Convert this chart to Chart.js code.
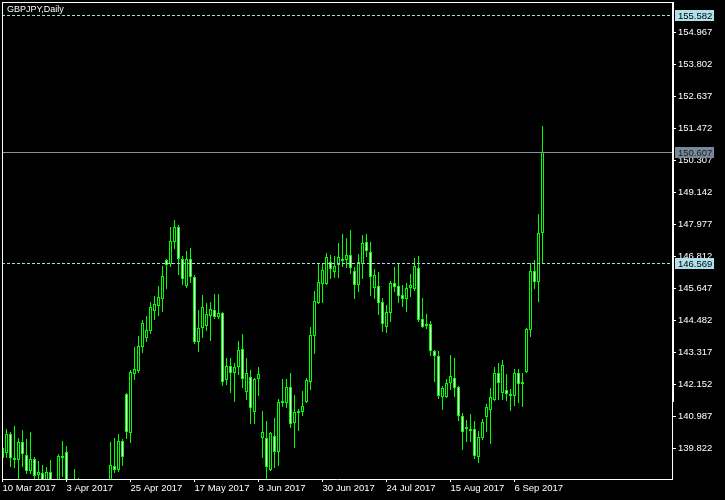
<!DOCTYPE html>
<html>
<head>
<meta charset="utf-8">
<script src="https://cdn.jsdelivr.net/npm/chart.js@4.4.1/dist/chart.umd.min.js"></script>
<style>
  html, body { margin: 0; padding: 0; background: #000; }
  canvas { display: block; }
</style>
</head>
<body>
<canvas id="chart" width="725" height="500"></canvas>
<script>
// GBPJPY daily candles, bar 0 = 10 Mar 2017
const openP = [
  139.469, 139.651, 140.343, 139.469, 139.396, 140.052, 139.578, 138.996, 139.432, 138.850,
  138.923, 138.595, 138.959, 138.500, 138.300, 139.542, 139.687, 138.050, 138.000, 138.200,
  137.700, 137.400, 137.200, 136.200, 136.400, 136.000, 136.200, 136.500, 139.178, 139.032,
  140.088, 141.799, 140.379, 142.527, 142.636, 143.510, 143.838, 144.092, 144.821, 145.003,
  145.258, 146.677, 146.532, 147.333, 147.879, 146.714, 145.731, 146.714, 146.058, 143.692,
  144.202, 144.275, 144.639, 144.857, 144.602, 144.748, 142.309, 142.818, 142.563, 142.782,
  143.437, 141.872, 142.418, 141.144, 142.345, 140.197, 140.197, 139.032, 140.270, 139.687,
  141.472, 141.472, 142.054, 140.743, 141.108, 141.144, 141.508, 142.236, 143.910, 145.112,
  145.804, 145.804, 146.605, 146.240, 146.495, 146.714, 146.677, 146.860, 146.277, 145.767,
  146.532, 147.333, 146.969, 145.658, 145.731, 145.148, 144.239, 144.748, 145.840, 145.731,
  145.403, 145.258, 145.658, 145.622, 146.386, 144.530, 144.275, 144.348, 143.365, 143.183,
  141.690, 141.690, 142.200, 142.382, 142.054, 140.998, 140.525, 140.452, 140.525, 139.505,
  140.197, 140.962, 141.217, 141.581, 142.563, 141.836, 141.945, 141.726, 141.726, 142.563,
  142.163, 142.600, 144.129, 146.277, 145.877, 147.660
];
const highP = [
  139.942, 140.525, 140.416, 140.634, 140.197, 140.489, 140.161, 140.416, 139.505, 139.359,
  139.214, 139.141, 139.396, 138.650, 139.614, 140.088, 139.906, 138.550, 139.069, 138.741,
  138.400, 137.900, 137.500, 136.800, 136.700, 136.400, 136.600, 140.052, 140.197, 140.343,
  140.161, 141.836, 142.673, 143.510, 143.910, 144.493, 144.639, 145.148, 145.367, 145.731,
  146.459, 146.714, 147.879, 148.133, 147.951, 146.823, 147.005, 147.115, 146.131, 144.857,
  145.403, 145.112, 145.148, 145.440, 145.440, 144.784, 143.110, 143.110, 142.927, 143.729,
  143.983, 143.110, 142.673, 142.382, 142.782, 141.181, 140.816, 140.416, 140.925, 141.617,
  142.345, 142.345, 142.563, 141.763, 141.254, 141.908, 142.382, 144.239, 145.549, 146.532,
  146.568, 146.932, 146.860, 146.823, 147.297, 147.624, 147.479, 147.769, 146.423, 146.896,
  147.588, 147.624, 147.333, 146.350, 146.240, 145.294, 145.039, 145.913, 146.423, 146.568,
  145.767, 145.840, 146.168, 146.750, 146.823, 145.294, 144.712, 144.457, 143.401, 143.365,
  142.091, 142.345, 143.219, 143.110, 142.091, 141.108, 140.853, 141.072, 140.816, 140.452,
  140.889, 141.436, 142.018, 142.782, 142.927, 143.037, 142.527, 141.981, 142.709, 142.709,
  142.563, 144.202, 146.568, 146.677, 148.352, 151.556
];
const lowP = [
  139.396, 139.469, 139.141, 139.105, 138.632, 139.141, 138.886, 138.886, 138.632, 138.595,
  138.486, 138.450, 138.377, 137.700, 138.100, 138.777, 137.850, 137.600, 137.800, 137.500,
  137.000, 136.900, 135.900, 135.800, 135.700, 135.600, 135.600, 136.200, 138.923, 138.959,
  139.178, 140.161, 140.015, 142.309, 142.563, 143.292, 143.692, 143.983, 144.493, 144.639,
  144.784, 145.622, 146.423, 147.078, 146.131, 145.767, 145.658, 145.840, 143.620, 143.328,
  143.838, 144.092, 143.729, 144.530, 144.530, 142.091, 142.127, 141.836, 141.508, 142.491,
  142.018, 141.581, 140.707, 140.707, 141.726, 139.469, 138.705, 138.996, 139.105, 139.178,
  141.326, 141.290, 140.561, 139.833, 140.452, 140.998, 141.472, 141.945, 143.256, 145.076,
  145.112, 145.767, 145.986, 146.022, 146.022, 146.423, 146.386, 146.168, 145.258, 145.513,
  145.986, 146.787, 145.367, 145.258, 144.675, 144.056, 144.020, 144.421, 145.513, 145.112,
  144.966, 144.784, 145.331, 145.549, 144.421, 144.202, 144.166, 143.183, 142.236, 141.617,
  141.217, 141.653, 141.945, 141.690, 140.816, 139.760, 140.052, 140.052, 139.432, 139.287,
  140.124, 140.416, 139.979, 141.545, 141.581, 141.581, 141.545, 141.181, 141.363, 141.472,
  141.326, 142.563, 143.874, 145.622, 145.148, 146.568
];
const closeP = [
  139.833, 140.343, 139.469, 139.396, 140.052, 139.614, 138.996, 139.432, 138.814, 138.959,
  138.632, 138.959, 138.523, 137.950, 139.542, 139.469, 138.050, 137.900, 138.200, 137.700,
  137.400, 137.200, 136.200, 136.400, 136.000, 136.200, 136.500, 139.214, 139.032, 140.088,
  139.505, 140.416, 142.600, 142.709, 143.547, 144.384, 144.129, 144.966, 145.076, 145.331,
  146.095, 146.495, 147.369, 147.879, 146.714, 145.986, 146.714, 146.058, 143.692, 144.202,
  144.966, 144.712, 144.894, 144.602, 144.748, 142.236, 142.818, 142.563, 142.782, 143.401,
  142.345, 142.563, 141.290, 142.345, 142.527, 140.416, 139.141, 140.379, 139.687, 141.508,
  141.545, 142.054, 140.707, 141.144, 141.181, 141.363, 142.309, 143.947, 145.185, 145.877,
  146.313, 146.787, 146.350, 146.459, 146.787, 146.641, 146.860, 146.386, 145.767, 146.605,
  147.297, 147.005, 146.058, 146.131, 145.112, 144.348, 144.784, 145.840, 145.694, 145.367,
  145.258, 145.658, 145.767, 146.459, 144.493, 144.239, 144.348, 143.365, 143.183, 141.726,
  142.018, 142.200, 142.454, 142.018, 140.998, 140.416, 140.598, 140.525, 139.542, 140.234,
  140.780, 141.326, 141.690, 142.563, 142.200, 142.855, 141.799, 141.799, 142.563, 142.163,
  142.236, 144.166, 146.277, 145.877, 147.660, 150.607
];

const priceTicks = [154.967, 153.802, 152.637, 151.472, 150.307, 149.142, 147.977,
                    146.812, 145.647, 144.482, 143.317, 142.152, 140.987, 139.822];
const dateLabels = ["10 Mar 2017", "3 Apr 2017", "25 Apr 2017", "17 May 2017", "8 Jun 2017",
                    "30 Jun 2017", "24 Jul 2017", "15 Aug 2017", "6 Sep 2017"];
const dateBars = [0, 16, 32, 48, 64, 80, 96, 112, 128];
const hLines = [155.582, 146.569];
const bidPrice = 150.607;

const GREEN = "#00ff00";
const FONT = "'Liberation Sans', Arial, sans-serif";

const bodies = openP.map((o, i) => ({ x: i, y: [o, closeP[i]] }));
const wicks = openP.map((o, i) => ({ x: i, y: [lowP[i], highP[i]] }));

const mtDecor = {
    id: "mtDecor",
    afterDatasetsDraw(chart) {
        const { ctx, chartArea: a, scales: { y } } = chart;
        ctx.save();
        // horizontal dashed lines
        ctx.strokeStyle = "#a8dce8";
        ctx.lineWidth = 1;
        ctx.setLineDash([3, 2]);
        hLines.forEach(p => {
            const py = Math.round(y.getPixelForValue(p)) + 0.5;
            ctx.beginPath();
            ctx.moveTo(a.left, py);
            ctx.lineTo(a.right, py);
            ctx.stroke();
        });
        // bid line
        ctx.setLineDash([]);
        ctx.strokeStyle = "#8394a4";
        const by = Math.round(y.getPixelForValue(bidPrice)) + 0.5;
        ctx.beginPath();
        ctx.moveTo(a.left, by);
        ctx.lineTo(a.right, by);
        ctx.stroke();
        ctx.restore();
    },
    afterDraw(chart) {
        const { ctx, chartArea: a, scales: { y } } = chart;
        ctx.save();
        // frame
        ctx.fillStyle = "#ffffff";
        ctx.fillRect(a.left, a.top, a.right - a.left + 1, 1);
        ctx.fillRect(a.left, a.top, 1, a.bottom - a.top);
        ctx.fillRect(a.right + 1, a.top, 1, 402 - a.top);
        // price boxes
        ctx.font = "9.5px " + FONT;
        ctx.textBaseline = "middle";
        ctx.textAlign = "left";
        const box = (p, bg, fg) => {
            const py = Math.round(y.getPixelForValue(p));
            ctx.fillStyle = bg;
            ctx.fillRect(a.right + 3, py - 5, 39, 11);
            ctx.fillStyle = fg;
            ctx.fillText(p.toFixed(3), a.right + 6, py + 1);
        };
        hLines.forEach(p => box(p, "#b0e0ea", "#000000"));
        box(bidPrice, "#778899", "#1c1c1c");
        // title
        ctx.fillStyle = "#ffffff";
        ctx.font = "9px " + FONT;
        ctx.textBaseline = "top";
        ctx.fillText("GBPJPY,Daily", 7, 5);
        ctx.restore();
    }
};

new Chart(document.getElementById("chart"), {
    type: "bar",
    data: {
        datasets: [
            {
                data: bodies,
                grouped: false,
                barThickness: 3,
                borderWidth: 1,
                borderSkipped: false,
                inflateAmount: 0,
                minBarLength: 2,
                borderColor: GREEN,
                backgroundColor: bodies.map((b, i) => closeP[i] >= openP[i] ? "#000000" : "#ffffff")
            },
            {
                data: wicks,
                grouped: false,
                barThickness: 1,
                borderWidth: 0,
                inflateAmount: 0,
                backgroundColor: GREEN
            }
        ]
    },
    options: {
        responsive: false,
        animation: false,
        devicePixelRatio: 1,
        layout: { autoPadding: false, padding: { left: 2, top: 2, right: 0, bottom: 0 } },
        plugins: { legend: { display: false }, tooltip: { enabled: false } },
        scales: {
            x: {
                type: "linear",
                offset: false,
                min: -0.125,
                max: 167.375,
                afterBuildTicks: s => { s.ticks = dateBars.map(v => ({ value: v })); },
                afterFit: s => { s.height = 21; s.paddingLeft = 0; s.paddingRight = 0; },
                ticks: {
                    autoSkip: false,
                    maxRotation: 0,
                    align: "start",
                    padding: 1,
                    color: "#ffffff",
                    font: { family: FONT, size: 9.5 },
                    callback: v => dateLabels[dateBars.indexOf(v)]
                },
                grid: { display: true, drawOnChartArea: false, drawTicks: true, tickLength: 3, color: "#ffffff", offset: false },
                border: { display: true, color: "#ffffff" }
            },
            y: {
                position: "right",
                min: 138.705,
                max: 156.070,
                afterBuildTicks: s => { s.ticks = priceTicks.map(v => ({ value: v })); },
                afterFit: s => { s.width = 53; s.paddingTop = 0; s.paddingBottom = 0; },
                ticks: {
                    padding: 2,
                    color: "#ffffff",
                    font: { family: FONT, size: 9.5 },
                    callback: v => v.toFixed(3)
                },
                grid: { display: true, drawOnChartArea: false, drawTicks: true, tickLength: 4, color: "#ffffff" },
                border: { display: true, color: "#ffffff" }
            }
        }
    },
    plugins: [mtDecor]
});
</script>
</body>
</html>
